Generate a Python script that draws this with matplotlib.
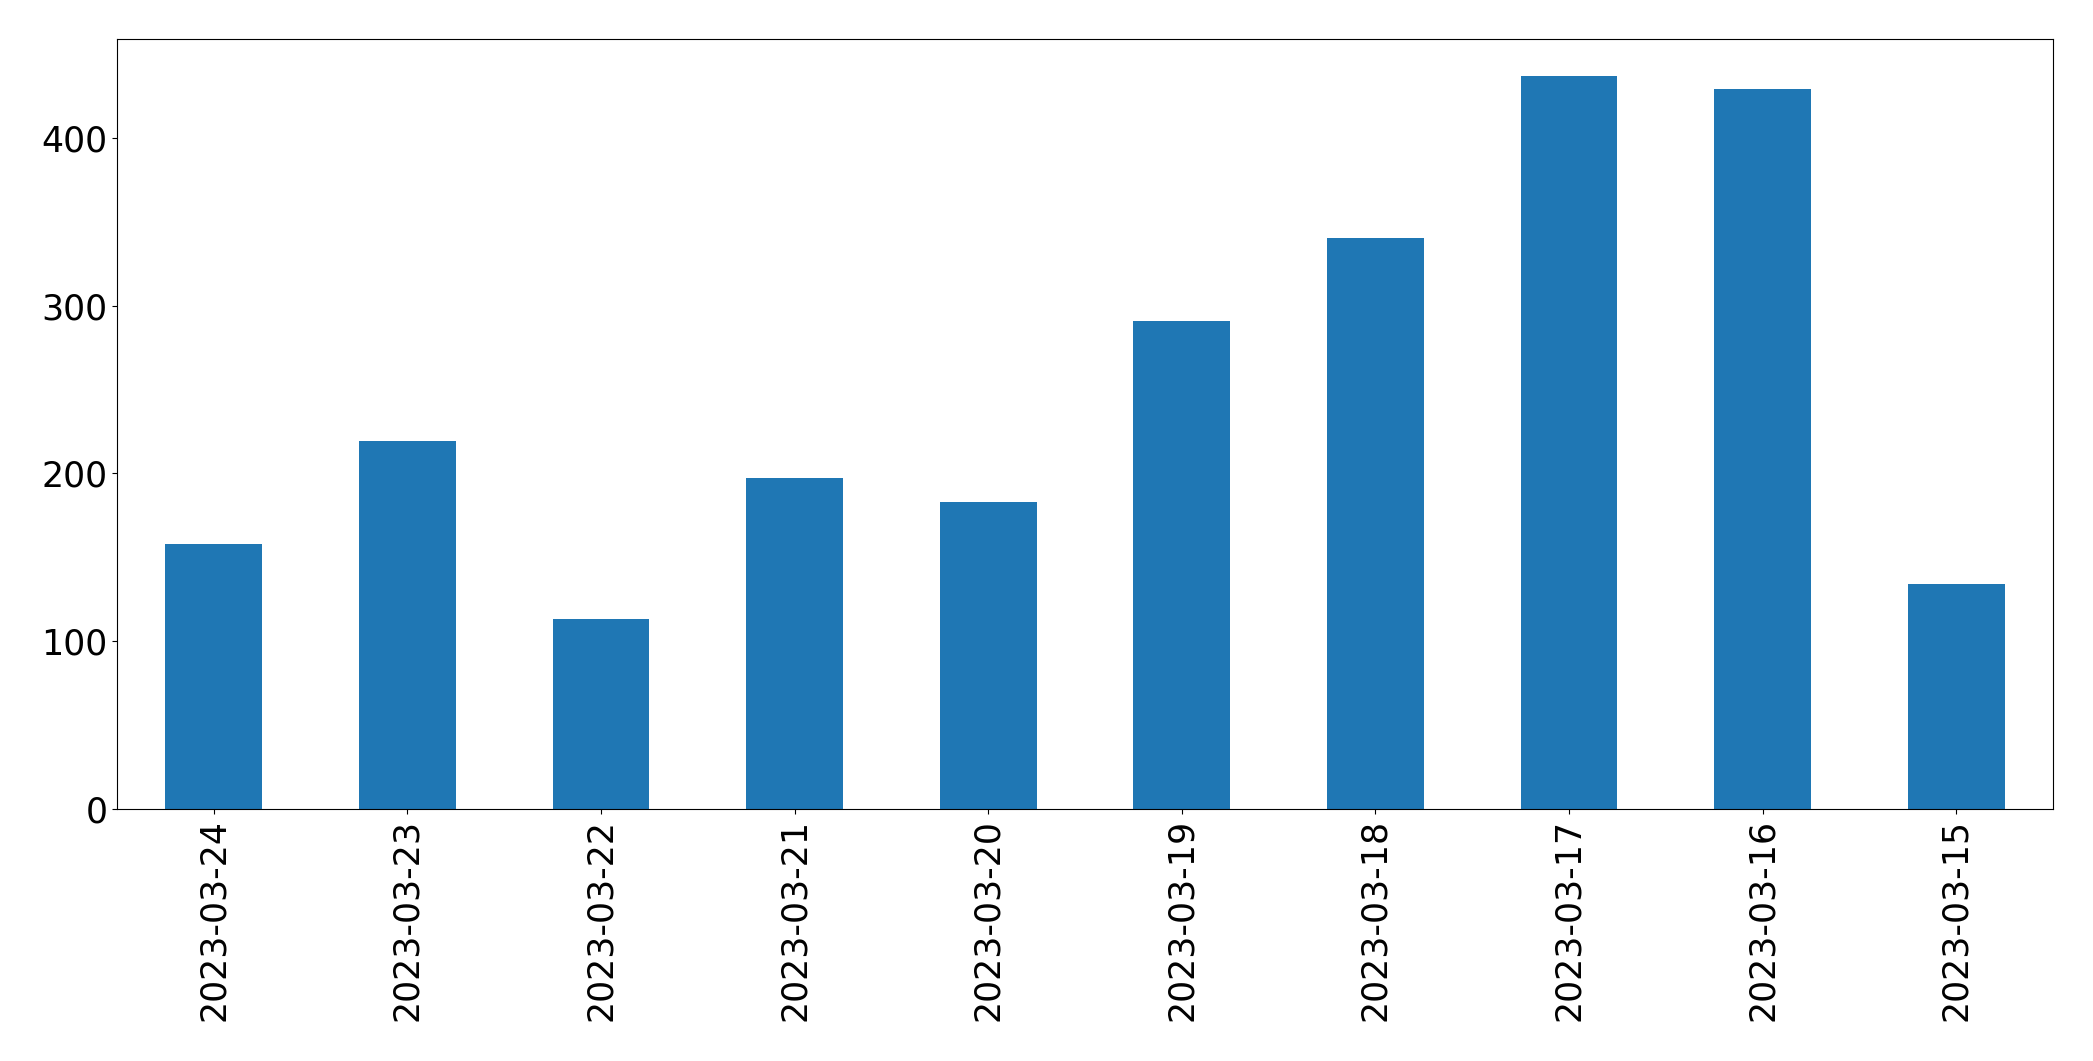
import matplotlib
matplotlib.use("Agg")
import matplotlib.pyplot as plt
import numpy as np

# Daily counts, newest first (as in the reference)
dates = ["2023-03-24", "2023-03-23", "2023-03-22", "2023-03-21", "2023-03-20",
         "2023-03-19", "2023-03-18", "2023-03-17", "2023-03-16", "2023-03-15"]
counts = [158, 219, 113, 197, 183, 291, 340, 437, 429, 134]

W, H, DPI = 2093, 1061, 100
fig = plt.figure(figsize=(W / DPI, H / DPI), dpi=DPI)
ax = fig.add_axes([117 / W, 1 - 809 / H, (2053 - 117) / W, (809 - 39) / H])

x = np.arange(len(dates))
ax.bar(x, counts, width=0.5, color="#1f77b4")
ax.set_xlim(-0.5, len(dates) - 0.5)
ax.set_ylim(0, max(counts) * 1.05)
ax.set_xticks(x)
ax.set_xticklabels(dates, rotation=90)
ax.set_yticks([0, 100, 200, 300, 400])
ax.tick_params(axis="both", labelsize=25)

fig.savefig("out.png", dpi=DPI)
